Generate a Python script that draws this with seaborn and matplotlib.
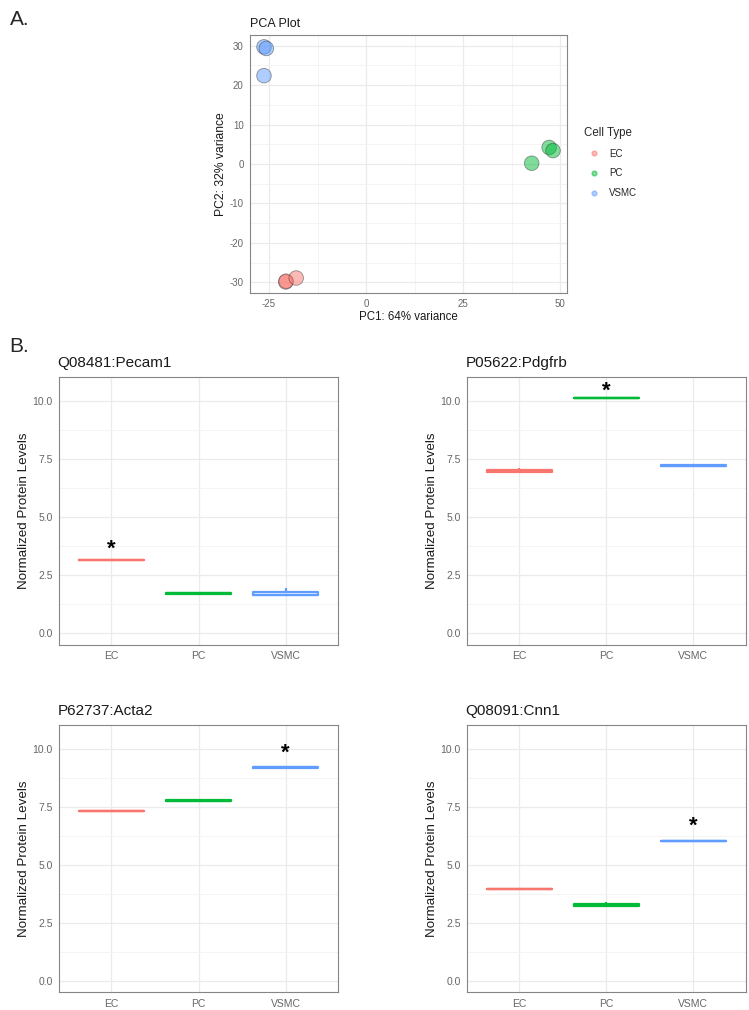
import matplotlib as mpl
mpl.use("Agg")
import matplotlib.pyplot as plt
import seaborn as sns
import numpy as np
import pandas as pd
from matplotlib.ticker import MultipleLocator

sns.set_style("white")
plt.rcParams['font.family'] = ['Liberation Sans', 'DejaVu Sans']
plt.rcParams['axes.unicode_minus'] = False

cell_types = ['EC', 'PC', 'VSMC']
palette = {'EC': '#F8766D', 'PC': '#00BA38', 'VSMC': '#619CFF'}

# PCA scores
pca_type = ['VSMC', 'VSMC', 'VSMC', 'EC', 'EC', 'EC', 'PC', 'PC', 'PC']
pc1 = [-26.3, -25.7, -26.3, -20.7, -20.6, -18.0, 42.7, 47.2, 48.2]
pc2 = [29.7, 29.3, 22.4, -29.9, -29.7, -28.9, 0.2, 4.2, 3.4]

# replicate protein levels per cell type (EC, PC, VSMC)
proteins = ['Q08481:Pecam1', 'P05622:Pdgfrb', 'P62737:Acta2', 'Q08091:Cnn1']
pecam1 = {'EC': [3.14, 3.16, 3.18], 'PC': [1.70, 1.72, 1.74], 'VSMC': [1.65, 1.65, 1.95]}
pdgfrb = {'EC': [6.92, 6.98, 7.10], 'PC': [10.11, 10.13, 10.14], 'VSMC': [7.20, 7.22, 7.26]}
acta2 = {'EC': [7.32, 7.33, 7.34], 'PC': [7.76, 7.77, 7.78], 'VSMC': [9.19, 9.20, 9.22]}
cnn1 = {'EC': [3.94, 3.95, 3.96], 'PC': [3.18, 3.26, 3.40], 'VSMC': [6.02, 6.03, 6.04]}
star_group = ['EC', 'PC', 'VSMC', 'VSMC']
star_y = [3.6, 10.4, 9.8, 6.65]

fig = plt.figure(figsize=(7.49, 10.10), dpi=100)

def style_axes(ax, tsize):
    ax.set_facecolor('white')
    for s in ax.spines.values():
        s.set_color('#858585')
        s.set_linewidth(0.8)
    ax.grid(True, which='major', color='#ebebeb', linewidth=0.9)
    ax.grid(True, which='minor', color='#f3f3f3', linewidth=0.6)
    ax.set_axisbelow(True)
    ax.tick_params(axis='both', which='major', labelsize=tsize, labelcolor='#666666',
                   length=2.5, width=0.6, color='#444444', pad=2)
    ax.tick_params(axis='both', which='minor', length=0)

# ---- PCA ----
ax0 = fig.add_axes([0.3338, 0.7099, 0.4232, 0.2554])
pca_df = pd.DataFrame({'PC1': pc1, 'PC2': pc2, 'Cell Type': pca_type})
sns.scatterplot(data=pca_df, x='PC1', y='PC2', hue='Cell Type', hue_order=cell_types,
                palette=palette, s=110, alpha=0.5, edgecolor='#333333', linewidth=0.6,
                ax=ax0, legend=False)
ax0.set_xlim(-29.9, 51.8)
ax0.set_ylim(-32.7, 32.7)
ax0.xaxis.set_major_locator(MultipleLocator(25))
ax0.xaxis.set_minor_locator(MultipleLocator(12.5))
ax0.yaxis.set_major_locator(MultipleLocator(10))
ax0.yaxis.set_minor_locator(MultipleLocator(5))
style_axes(ax0, 7)
ax0.set_xlabel('PC1: 64% variance', fontsize=8.3, color='#1a1a1a', labelpad=1)
ax0.set_ylabel('PC2: 32% variance', fontsize=8.7, color='#1a1a1a', labelpad=2)
ax0.set_title('PCA Plot', fontsize=9, loc='left', color='#1a1a1a', pad=6)

handles = [plt.Line2D([], [], marker='o', linestyle='', markersize=3.5,
                      markerfacecolor=palette[c], markeredgecolor=palette[c],
                      alpha=0.5, label=c) for c in cell_types]
fig.legend(handles=handles, title='Cell Type', loc='upper left',
           bbox_to_anchor=(0.768, 0.883), frameon=False, fontsize=7,
           title_fontsize=8.3, handletextpad=0.6, labelspacing=1.0,
           alignment='left')

# ---- protein boxplots ----
panels = [pecam1, pdgfrb, acta2, cnn1]
rects = [[0.0788, 0.3614, 0.3725, 0.2653], [0.6235, 0.3614, 0.3721, 0.2653],
         [0.0788, 0.0175, 0.3725, 0.2647], [0.6235, 0.0175, 0.3721, 0.2647]]
for i, (vals, rect) in enumerate(zip(panels, rects)):
    ax = fig.add_axes(rect)
    rows = [(c, v) for c in cell_types for v in vals[c]]
    df = pd.DataFrame(rows, columns=['Cell Type', 'Level'])
    sns.boxplot(data=df, x='Cell Type', y='Level', hue='Cell Type', order=cell_types,
                hue_order=cell_types, palette=palette, fill=False, width=0.75,
                dodge=False, linewidth=1.6, whis=1.5, fliersize=0, legend=False,
                capprops={'visible': False}, ax=ax)
    ax.set_xlim(-0.6, 2.6)
    ax.set_ylim(-0.5, 11.03)
    ax.yaxis.set_major_locator(MultipleLocator(2.5))
    ax.yaxis.set_minor_locator(MultipleLocator(1.25))
    ax.yaxis.set_major_formatter(mpl.ticker.FormatStrFormatter('%.1f'))
    style_axes(ax, 7.5)
    ax.set_xlabel('')
    ax.set_ylabel('Normalized Protein Levels', fontsize=9.6, color='#1a1a1a', labelpad=1.5)
    ax.set_title(proteins[i], fontsize=11, loc='left', color='#1a1a1a', pad=7, x=-0.005)
    ax.text(cell_types.index(star_group[i]), star_y[i], '*', ha='center', va='center',
            fontsize=16, fontweight='bold', color='black')

fig.text(0.013, 0.981, 'A.', fontsize=15, ha='left', va='center')
fig.text(0.013, 0.657, 'B.', fontsize=15, ha='left', va='center')

fig.savefig('out.png', dpi=100)
